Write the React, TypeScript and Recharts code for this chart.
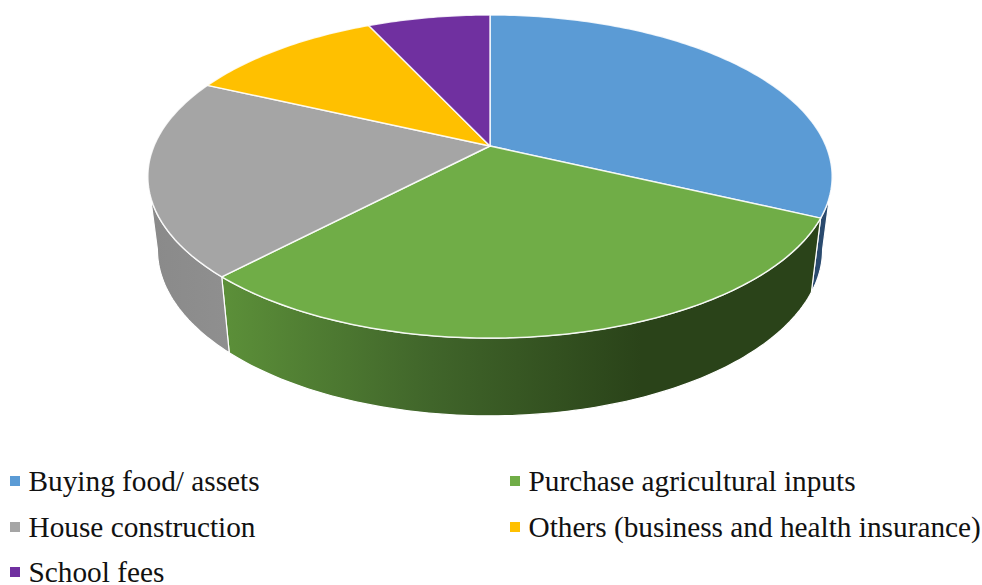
import React from 'react';
import { PieChart, Pie, Legend } from 'recharts';

const categories = [
  'Buying food/ assets',
  'Purchase agricultural inputs',
  'House construction',
  'Others (business and health insurance)',
  'School fees',
];
const shares = [32.0, 30.1, 19.8, 11.15, 6.95];
const colors = ['#5B9BD5', '#70AD47', '#A5A5A5', '#FFC000', '#7030A0'];
const wallFills = ['#2A4A6E', 'url(#greenWall)', 'url(#greyWall)', 'none', 'none'];

const rows = categories.map((name, i) => ({ name, value: shares[i], fill: colors[i], wall: wallFills[i] }));

// Perspective of the tilted disc, as ratios of the pie's radius
const TILT_W = -0.1889;
const TILT_Y = 155.8 / 336;
const WALL_SCALE_X = 0.972;
const WALL_SCALE_Y = 1.03;
const WALL_DROP = 72 / 336;
const WALL_FROM = 100.9;
const WALL_TO = 259.1;

const RAD = Math.PI / 180;

function topPoint(a: number, cx: number, cy: number, r: number) {
  const u = Math.sin(a * RAD);
  const v = -Math.cos(a * RAD);
  const w = 1 + TILT_W * v;
  return { x: cx + (r * u) / w, y: cy + (r * TILT_Y * v) / w };
}

function wallPoint(a: number, cx: number, cy: number, r: number) {
  const p = topPoint(a, cx, cy, r);
  return {
    x: cx + (p.x - cx) * WALL_SCALE_X,
    y: cy + r * WALL_DROP + (p.y - cy) * WALL_SCALE_Y,
  };
}

function sampled(a0: number, a1: number, fn: (a: number) => { x: number; y: number }) {
  const n = Math.max(2, Math.ceil(Math.abs(a1 - a0)));
  const pts: string[] = [];
  for (let i = 0; i <= n; i++) {
    const p = fn(a0 + ((a1 - a0) * i) / n);
    pts.push(`${p.x.toFixed(2)},${p.y.toFixed(2)}`);
  }
  return pts;
}

function Slice3D(props: any) {
  const { cx, cy, outerRadius: r, startAngle, endAngle, fill, wall } = props;
  const a0 = 90 - startAngle;
  const a1 = 90 - endAngle;
  const top = (a: number) => topPoint(a, cx, cy, r);
  const low = (a: number) => wallPoint(a, cx, cy, r);
  const w0 = Math.max(a0, WALL_FROM);
  const w1 = Math.min(a1, WALL_TO);
  const hasWall = wall !== 'none' && w1 > w0;
  return (
    <g>
      <defs>
        <linearGradient id="greenWall" gradientUnits="userSpaceOnUse" x1={cx - r * 0.8} x2={cx + r * 0.45} y1="0" y2="0">
          <stop offset="0" stopColor="#5C9039" />
          <stop offset="0.5" stopColor="#40652A" />
          <stop offset="1" stopColor="#2A4319" />
        </linearGradient>
        <linearGradient id="greyWall" gradientUnits="userSpaceOnUse" x1={cx - r} x2={cx - r * 0.78} y1="0" y2="0">
          <stop offset="0" stopColor="#8A8A8A" />
          <stop offset="1" stopColor="#8F8F8F" />
        </linearGradient>
      </defs>
      {hasWall && (
        <polygon
          points={[...sampled(w0, w1, top), ...sampled(w1, w0, low)].join(' ')}
          fill={wall}
          stroke="#FFFFFF"
          strokeWidth={1.2}
          strokeLinejoin="round"
        />
      )}
      <polygon
        points={[`${cx},${cy}`, ...sampled(a0, a1, top)].join(' ')}
        fill={fill}
        stroke="#FFFFFF"
        strokeWidth={1.5}
        strokeOpacity={0.85}
        strokeLinejoin="round"
      />
    </g>
  );
}

const LEGEND_COLS = [10, 510];
const LEGEND_ROWS = [481, 526.5, 572];

function LegendBlock({ payload }: any) {
  return (
    <div style={{ position: 'relative', width: 982, height: 585 }}>
      {(payload || []).map((item: any, i: number) => {
        const left = LEGEND_COLS[i % 2];
        const mid = LEGEND_ROWS[Math.floor(i / 2)];
        return (
          <React.Fragment key={item.value}>
            <div style={{ position: 'absolute', left, top: mid - 5, width: 10, height: 10, background: item.color }} />
            <div
              style={{
                position: 'absolute',
                left: left + 18.5,
                top: mid - 13,
                height: 26,
                lineHeight: '26px',
                fontFamily: '"Liberation Serif"',
                fontSize: 29.3,
                color: '#111111',
                whiteSpace: 'nowrap',
              }}
            >
              {item.value}
            </div>
          </React.Fragment>
        );
      })}
    </div>
  );
}

export default function App() {
  return (
    <div style={{ position: 'absolute', left: 0, top: 0, width: 982, height: 585, background: '#FFFFFF' }}>
      <PieChart width={982} height={585} margin={{ top: 0, right: 0, bottom: 0, left: 0 }}>
        <Pie
          data={rows}
          dataKey="value"
          nameKey="name"
          cx={490}
          cy={146}
          outerRadius={336}
          startAngle={90}
          endAngle={-270}
          stroke="none"
          isAnimationActive={false}
          shape={Slice3D}
        />
        <Legend
          content={LegendBlock}
          itemSorter={null}
          wrapperStyle={{ position: 'absolute', left: 0, top: 0, width: 982, height: 585, pointerEvents: 'none' }}
        />
      </PieChart>
    </div>
  );
}
